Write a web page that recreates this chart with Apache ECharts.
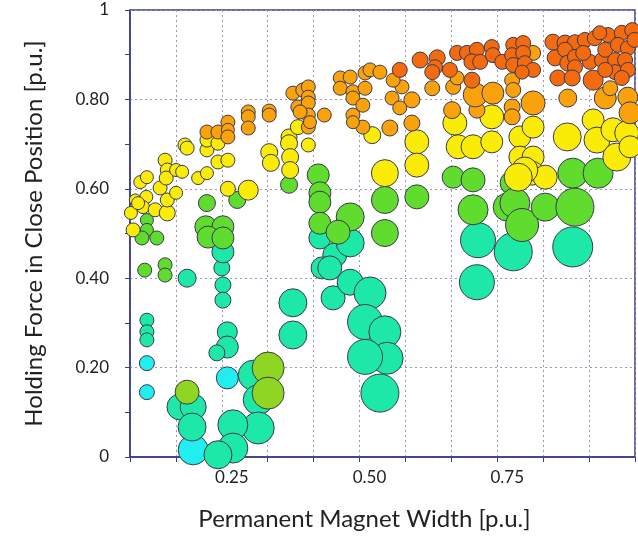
<!DOCTYPE html>
<html><head><meta charset="utf-8">
<script src="https://cdn.jsdelivr.net/npm/echarts@6/dist/echarts.min.js"></script>
<style>html,body{margin:0;padding:0;background:#fff}#c{width:638px;height:537px}</style>
</head><body><div id="c"></div>
<script>
// [width, holding force, bubble size]
const cyanPts = [[0.114,0.210,15],[0.114,0.145,15],[0.260,0.177,22],[0.198,0.016,30]];
const tealPts = [
 [0.187,0.400,18],[0.250,0.423,16],[0.252,0.385,16],[0.252,0.351,16],[0.114,0.306,14],[0.114,0.280,14],[0.114,0.262,14],
 [0.260,0.280,20],[0.260,0.246,22],[0.241,0.233,16],[0.252,0.459,22],[0.379,0.345,28],[0.379,0.273,28],
 [0.307,0.183,30],[0.316,0.128,30],[0.316,0.065,32],[0.174,0.112,26],[0.198,0.112,26],[0.196,0.067,28],
 [0.270,0.072,30],[0.270,0.020,30],[0.243,0.005,28],
 [0.428,0.490,22],[0.455,0.452,24],[0.483,0.479,28],[0.432,0.423,22],[0.446,0.423,24],[0.452,0.356,24],[0.483,0.391,26],
 [0.519,0.367,32],[0.510,0.302,35],[0.546,0.280,32],[0.550,0.221,32],[0.510,0.224,35],[0.537,0.143,38],
 [0.715,0.485,35],[0.713,0.391,35],[0.779,0.459,38],[0.887,0.470,40]
];
const greenPts = [
 [0.114,0.530,13],[0.114,0.508,13],[0.105,0.490,14],[0.132,0.490,14],[0.110,0.418,14],[0.147,0.430,14],[0.147,0.407,14],
 [0.223,0.568,17],[0.221,0.515,22],[0.252,0.515,22],[0.225,0.492,22],[0.252,0.490,22],[0.278,0.575,17],[0.372,0.609,17],
 [0.425,0.631,22],[0.428,0.591,22],[0.428,0.570,22],[0.428,0.523,22],[0.483,0.537,28],[0.461,0.503,24],
 [0.604,0.582,24],[0.546,0.575,27],[0.546,0.501,27],
 [0.670,0.626,22],[0.706,0.620,24],[0.706,0.553,30],[0.777,0.613,24],[0.768,0.559,28],[0.782,0.568,30],
 [0.795,0.519,33],[0.837,0.559,28],[0.891,0.559,38],[0.887,0.635,30],[0.933,0.635,30]
];
const yellowGreenPts = [[0.187,0.145,24],[0.334,0.199,32],[0.334,0.143,32]];
const yellowPts = [
 [0.093,0.575,12],[0.102,0.615,13],[0.114,0.626,13],[0.113,0.582,13],[0.107,0.559,13],[0.089,0.508,14],[0.085,0.546,13],
 [0.098,0.568,13],[0.129,0.553,14],[0.151,0.546,16],[0.138,0.602,14],[0.151,0.575,14],[0.147,0.664,14],[0.151,0.642,14],
 [0.149,0.624,14],[0.167,0.642,13],[0.178,0.638,13],[0.167,0.591,13],[0.183,0.698,14],[0.187,0.691,14],[0.207,0.624,13],
 [0.223,0.635,13],[0.223,0.687,14],[0.223,0.709,14],[0.243,0.702,14],[0.243,0.660,14],[0.261,0.664,14],[0.261,0.600,15],
 [0.298,0.597,20],[0.336,0.682,17],[0.339,0.658,17],[0.372,0.716,16],[0.372,0.702,17],[0.374,0.671,17],[0.374,0.642,17],
 [0.388,0.738,15],[0.407,0.698,14],
 [0.523,0.720,17],[0.604,0.705,24],[0.604,0.653,24],[0.546,0.635,27],[0.673,0.747,24],[0.679,0.694,24],[0.706,0.694,24],
 [0.740,0.761,24],[0.740,0.705,22],[0.791,0.716,22],[0.791,0.671,22],[0.815,0.671,22],[0.815,0.738,22],[0.813,0.635,24],
 [0.837,0.626,24],[0.800,0.642,26],[0.788,0.626,28],
 [0.877,0.716,28],[0.924,0.754,22],[0.931,0.709,26],[0.960,0.732,24],[0.985,0.725,24],[0.967,0.671,28],[0.991,0.694,22]
];
const orangePts = [
 [0.223,0.727,14],[0.243,0.727,14],[0.261,0.749,14],[0.261,0.732,13],[0.261,0.716,14],[0.298,0.772,14],[0.298,0.761,14],
 [0.298,0.736,14],[0.336,0.774,14],[0.336,0.765,14],[0.379,0.814,14],[0.397,0.821,14],[0.407,0.828,14],[0.407,0.805,14],
 [0.388,0.783,14],[0.407,0.792,14],[0.407,0.765,14],[0.407,0.738,14],[0.436,0.765,14],[0.392,0.772,14],[0.410,0.749,13],
 [0.465,0.848,14],[0.483,0.850,14],[0.465,0.825,14],[0.488,0.817,14],[0.510,0.825,14],[0.488,0.803,14],[0.506,0.787,14],
 [0.488,0.765,14],[0.506,0.738,14],[0.488,0.749,13],[0.555,0.736,16],[0.577,0.828,14],[0.559,0.803,14],[0.595,0.799,16],
 [0.573,0.781,14],[0.595,0.747,16],[0.510,0.859,14],[0.519,0.866,14],[0.537,0.861,14],[0.561,0.843,14],
 [0.632,0.825,15],[0.670,0.828,15],[0.668,0.776,17],[0.706,0.805,15],[0.713,0.776,16],[0.710,0.810,24],[0.742,0.814,22],
 [0.777,0.843,15],[0.779,0.821,15],[0.777,0.783,16],[0.777,0.761,16],[0.815,0.792,24],[0.815,0.904,15],[0.677,0.848,14],
 [0.878,0.803,18],[0.946,0.803,22],[0.987,0.805,20],[0.991,0.770,22],[0.955,0.825,15]
];
const darkOrangePts = [
 [0.573,0.866,15],[0.610,0.888,16],[0.641,0.893,16],[0.637,0.872,15],[0.632,0.861,15],[0.664,0.866,15],[0.677,0.904,15],
 [0.695,0.904,15],[0.713,0.911,15],[0.704,0.884,16],[0.704,0.843,16],[0.719,0.884,15],[0.740,0.917,15],[0.742,0.899,15],
 [0.759,0.884,15],[0.779,0.922,15],[0.797,0.926,15],[0.777,0.899,15],[0.797,0.904,15],[0.779,0.877,15],[0.800,0.881,15],
 [0.815,0.866,15],[0.795,0.861,14],
 [0.851,0.928,16],[0.873,0.926,16],[0.891,0.928,15],[0.909,0.933,15],[0.927,0.937,15],[0.951,0.944,15],[0.976,0.949,15],
 [0.995,0.955,15],[0.855,0.893,16],[0.873,0.911,15],[0.878,0.881,16],[0.891,0.895,15],[0.891,0.872,15],[0.860,0.848,16],
 [0.886,0.848,16],[0.924,0.843,20],[0.918,0.884,15],[0.940,0.888,15],[0.946,0.911,15],[0.964,0.888,15],[0.969,0.922,15],
 [0.987,0.915,15],[0.982,0.888,15],[0.964,0.861,15],[0.987,0.866,15],[0.946,0.866,15],[0.976,0.848,15],[0.906,0.904,15],
 [0.999,0.933,15],[0.936,0.949,14]
];
const xTickValues = [0.25, 0.5, 0.75, 1];
const xTickLabels = ['0.25', '0.50', '0.75', '1'];
const yTickValues = [0, 0.2, 0.4, 0.6, 0.8, 1];
const yTickLabels = ['0', '0.20', '0.40', '0.60', '0.80', '1'];

const groups = [
  ['cyan', cyanPts, '#22eef0'],
  ['teal', tealPts, '#1ee8a8'],
  ['green', greenPts, '#60dc2e'],
  ['yellowGreen', yellowGreenPts, '#8fd622'],
  ['yellow', yellowPts, '#fbec08'],
  ['orange', orangePts, '#f9a20c'],
  ['darkOrange', darkOrangePts, '#f46a0e']
];
function lookup(vals, labels, v){
  for (let i=0;i<vals.length;i++) if (Math.abs(vals[i]-v) < 1e-6) return labels[i];
  return '';
}
const font = 'Lato, "Open Sans", sans-serif';
const axisColor = '#3a3a88';
const chart = echarts.init(document.getElementById('c'), null, {renderer:'canvas'});
chart.setOption({
  animation:false,
  backgroundColor:'#fff',
  grid:{left:130, right:3, top:10, bottom:80, show:true, borderColor:axisColor, borderWidth:1.5,
        backgroundColor:'transparent', outerBoundsMode:'none', containLabel:false},
  xAxis:{
    type:'value', min:1/12, max:1, interval:1/12,
    name:'Permanent Magnet Width [p.u.]', nameLocation:'middle', nameGap:50,
    nameTextStyle:{fontFamily:font, fontSize:24, color:'#222', padding:[0,36,0,0]},
    axisLine:{show:true, lineStyle:{color:axisColor, width:1.5}},
    axisTick:{show:true, length:5, lineStyle:{color:axisColor}},
    axisLabel:{margin:12, fontFamily:font, fontSize:17, color:'#222', padding:[0,0,0,20],
      formatter:v=>lookup(xTickValues, xTickLabels, v)},
    splitLine:{show:true, lineStyle:{color:'#9a9ab8', type:[2,3], width:1}}
  },
  yAxis:{
    type:'value', min:0, max:1, interval:0.2,
    name:'Holding Force in Close Position [p.u.]', nameLocation:'middle', nameGap:84, nameRotate:90,
    nameTextStyle:{fontFamily:font, fontSize:24, color:'#222'},
    axisLine:{show:true, lineStyle:{color:axisColor, width:1.5}},
    axisTick:{show:true, length:5, lineStyle:{color:axisColor}},
    minorTick:{show:true, splitNumber:2, length:5, lineStyle:{color:axisColor}},
    axisLabel:{margin:21, fontFamily:font, fontSize:17, color:'#222',
      formatter:v=>lookup(yTickValues, yTickLabels, v)},
    splitLine:{show:true, lineStyle:{color:'#9a9ab8', type:[2,3], width:1}}
  },
  series: groups.map(g=>({
    name:g[0], type:'scatter', data:g[1], symbolSize:d=>d[2],
    itemStyle:{color:g[2], borderColor:'#3a3a50', borderWidth:1, opacity:1},
    clip:true
  }))
});
</script></body></html>
